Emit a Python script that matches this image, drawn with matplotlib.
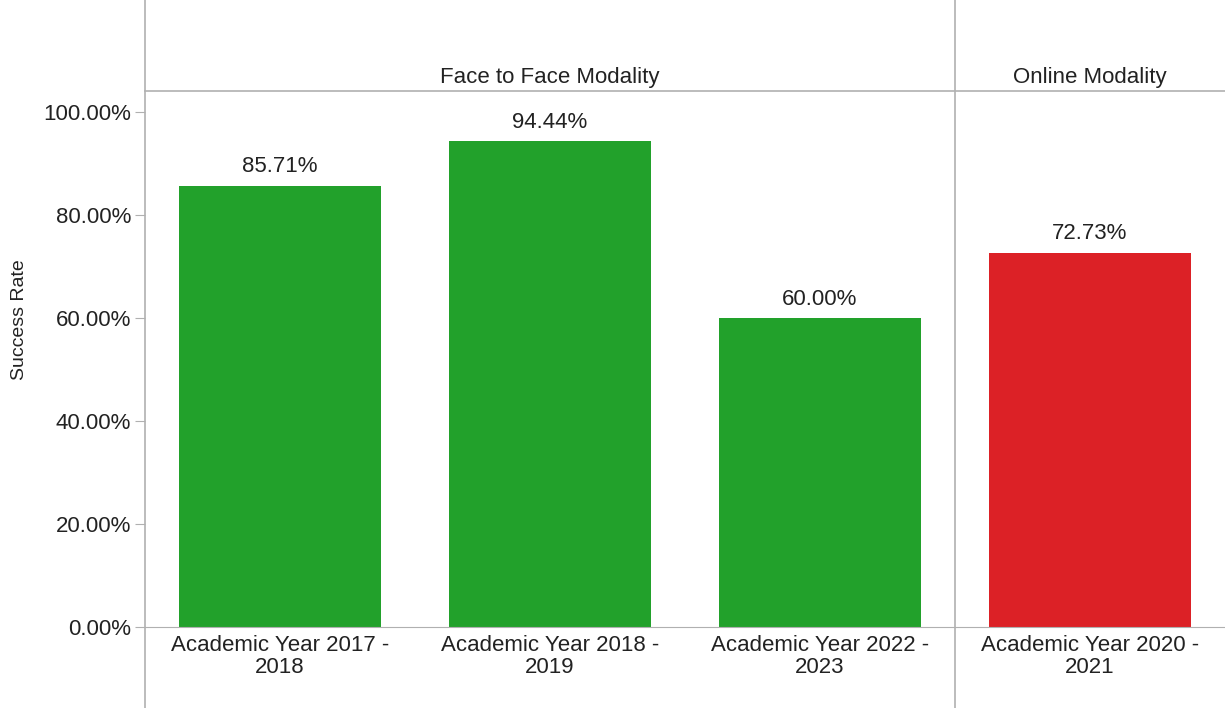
import matplotlib
matplotlib.use("Agg")
import matplotlib.pyplot as plt
from matplotlib.lines import Line2D
from matplotlib.ticker import PercentFormatter

plt.rcParams['font.family'] = ['Liberation Sans', 'DejaVu Sans']

panels = ["Face to Face Modality", "Online Modality"]
face_labels = ["Academic Year 2017 -\n2018", "Academic Year 2018 -\n2019", "Academic Year 2022 -\n2023"]
face_values = [85.71, 94.44, 60.00]
online_labels = ["Academic Year 2020 -\n2021"]
online_values = [72.73]
yticks = [0, 20, 40, 60, 80, 100]

green = "#22a12b"
red = "#dc2126"
txt = "#222222"
line_c = "#b0b0b0"
fs = 16

W, H = 1225, 708
fig = plt.figure(figsize=(W / 100, H / 100), dpi=100)

x0, x_sep, x1 = 145, 955, 1225
y_top, y_base = 91, 627
bottom = (H - y_base) / H
height = (y_base - y_top) / H

ax1 = fig.add_axes([x0 / W, bottom, (x_sep - x0) / W, height])
ax2 = fig.add_axes([x_sep / W, bottom, (x1 - x_sep) / W, height])

ymax = 104.1
for ax, labels, vals, col in [(ax1, face_labels, face_values, green),
                              (ax2, online_labels, online_values, red)]:
    xs = list(range(len(vals)))
    bars = ax.bar(xs, vals, width=0.75, color=col, edgecolor='none')
    for b, v in zip(bars, vals):
        ax.text(b.get_x() + b.get_width() / 2, v + 1.6, f"{v:.2f}%",
                ha='center', va='bottom', fontsize=fs, color=txt)
    ax.set_xlim(-0.5, len(vals) - 0.5)
    ax.set_ylim(0, ymax)
    ax.set_xticks(xs)
    ax.set_xticklabels(labels, fontsize=fs, color=txt, linespacing=1.05)
    ax.tick_params(axis='x', length=0, pad=6)
    for s in ax.spines.values():
        s.set_visible(False)
    ax.spines['bottom'].set_visible(True)
    ax.spines['bottom'].set_color(line_c)

ax1.set_yticks(yticks)
ax1.yaxis.set_major_formatter(PercentFormatter(decimals=2))
ax1.tick_params(axis='y', labelsize=fs, labelcolor=txt, color=line_c, length=7, pad=3)
ax1.set_ylabel("Success Rate", fontsize=14, color=txt)
ax1.yaxis.set_label_coords((28 - x0) / (x_sep - x0), (y_base - 320) / (y_base - y_top))
ax2.set_yticks([])

# frame lines across figure
fig.add_artist(Line2D([x0 / W, x0 / W], [0, 1], color=line_c, lw=1.2))
fig.add_artist(Line2D([x_sep / W, x_sep / W], [0, 1], color=line_c, lw=1.2))
fig.add_artist(Line2D([x0 / W, 1], [1 - y_top / H, 1 - y_top / H], color=line_c, lw=1.2))

# headers
hy = 1 - 77 / H
fig.text((x0 + x_sep) / 2 / W, hy, panels[0], ha='center', va='center', fontsize=fs, color=txt)
fig.text((x_sep + x1) / 2 / W, hy, panels[1], ha='center', va='center', fontsize=fs, color=txt)

fig.savefig("out.png", dpi=100)
